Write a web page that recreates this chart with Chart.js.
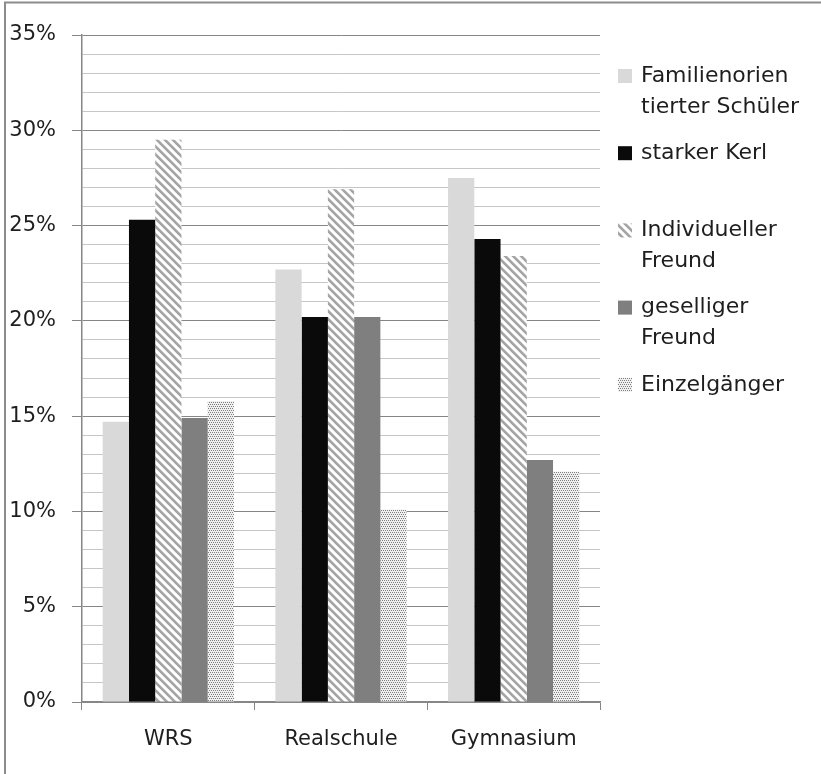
<!DOCTYPE html>
<html>
<head>
<meta charset="utf-8">
<script src="https://cdn.jsdelivr.net/npm/chart.js@4/dist/chart.umd.min.js"></script>
<style>
  html, body { margin: 0; padding: 0; background: #fff; }
  canvas { display: block; }
</style>
</head>
<body>
<canvas id="chart" width="821" height="774"></canvas>
<script>
// Data
const categories = ['WRS', 'Realschule', 'Gymnasium'];
const seriesNames = [
  ['Familienorien', 'tierter Schüler'],
  ['starker Kerl'],
  ['Individueller', 'Freund'],
  ['geselliger', 'Freund'],
  ['Einzelgänger']
];
const familienorientiert = [14.7, 22.7, 27.5];
const starkerKerl = [25.3, 20.2, 24.3];
const individuell = [29.5, 26.9, 23.4];
const gesellig = [14.9, 20.2, 12.7];
const einzelgaenger = [15.8, 10.1, 12.1];
const yMin = 0, yMax = 35, yStep = 1, yLabelStep = 5;

const FONT = 'DejaVu Sans';
const TEXT = '#1e1e1e';
const MAJOR = '#868686';
const MINOR = '#c6c6c6';

const canvas = document.getElementById('chart');
const ctx = canvas.getContext('2d');

// small pixel tiles for the patterned fills
function makePattern(size, fn) {
  const c = document.createElement('canvas');
  c.width = c.height = size;
  const g = c.getContext('2d');
  const img = g.createImageData(size, size);
  for (let y = 0; y < size; y++) {
    for (let x = 0; x < size; x++) {
      const v = fn(x, y), i = (y * size + x) * 4;
      img.data[i] = img.data[i + 1] = img.data[i + 2] = v;
      img.data[i + 3] = 255;
    }
  }
  g.putImageData(img, 0, 0);
  return ctx.createPattern(c, 'repeat');
}
const hatchShades = [165, 165, 165, 215, 255, 255, 255, 230];
const hatch = makePattern(8, (x, y) => hatchShades[((x - y) % 8 + 8) % 8]);
const dots = makePattern(4, (x, y) =>
  ((y % 4 === 0 && x % 2 === 0) || (y % 4 === 2 && x % 2 === 1)) ? 125 : 240);

const fills = ['#d9d9d9', '#0a0a0a', hatch, '#7f7f7f', dots];
const values = [familienorientiert, starkerKerl, individuell, gesellig, einzelgaenger];

const frame = {
  id: 'frame',
  beforeDraw(chart) {
    const c = chart.ctx;
    c.save();
    c.fillStyle = '#fff';
    c.fillRect(0, 0, chart.width, chart.height);
    c.restore();
  },
  afterDraw(chart) {
    const c = chart.ctx;
    c.save();
    // outer border (top + left only)
    c.strokeStyle = '#8c8c8c';
    c.lineWidth = 2;
    c.beginPath();
    c.moveTo(5, chart.height);
    c.lineTo(5, 2.5);
    c.lineTo(chart.width, 2.5);
    c.stroke();

    // legend
    const x0 = 618, tx = 641, y0 = 76, step = 77.2, lh = 31;
    c.font = '22px "' + FONT + '"';
    c.textBaseline = 'middle';
    chart.data.datasets.forEach((ds, i) => {
      const y = y0 + i * step;
      c.fillStyle = ds.backgroundColor;
      c.fillRect(x0, y - 7, 14, 14);
      c.fillStyle = TEXT;
      seriesNames[i].forEach((line, j) => c.fillText(line, tx, y + j * lh));
    });
    c.restore();
  }
};

new Chart(ctx, {
  type: 'bar',
  data: {
    labels: categories,
    datasets: values.map((v, i) => ({
      label: seriesNames[i].join(''),
      data: v,
      backgroundColor: fills[i],
      borderWidth: 0,
      categoryPercentage: 0.76,
      barPercentage: 1
    }))
  },
  options: {
    responsive: false,
    animation: false,
    devicePixelRatio: 1,
    layout: { padding: { left: 0, top: 35, right: 221, bottom: 0 } },
    plugins: { legend: { display: false }, tooltip: { enabled: false } },
    scales: {
      x: {
        offset: true,
        grid: {
          offset: true,
          drawOnChartArea: false,
          color: MAJOR,
          tickLength: 8
        },
        border: { color: MAJOR, width: 1.5 },
        ticks: {
          color: TEXT,
          padding: 17,
          font: { family: FONT, size: 21 }
        },
        afterFit(scale) { scale.height = 72; }
      },
      y: {
        min: yMin,
        max: yMax,
        grid: {
          color: t => (t.tick && t.tick.value % yLabelStep === 0) ? MAJOR : MINOR,
          tickColor: t => (t.tick && t.tick.value % yLabelStep === 0) ? MAJOR : 'rgba(0,0,0,0)',
          tickLength: 10,
          lineWidth: 1
        },
        border: { color: MAJOR, width: 1.5 },
        ticks: {
          stepSize: yStep,
          autoSkip: false,
          color: TEXT,
          padding: 16,
          font: { family: FONT, size: 21 },
          callback: v => v % yLabelStep === 0 ? v + '%' : ''
        },
        afterFit(scale) { scale.width = 82; }
      }
    }
  },
  plugins: [frame]
});
</script>
</body>
</html>
